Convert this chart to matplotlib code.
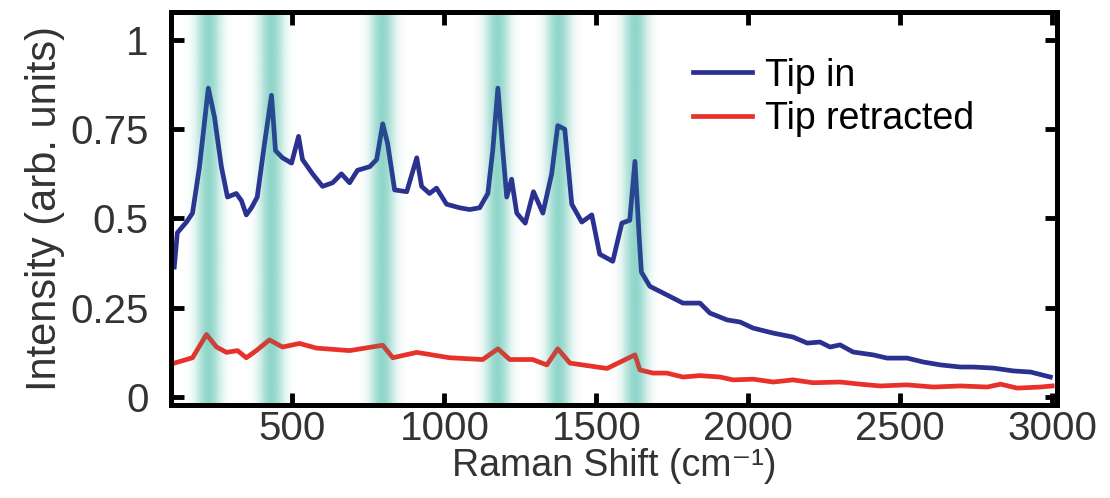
import numpy as np
import matplotlib
matplotlib.use("Agg")
import matplotlib.pyplot as plt

plt.rcParams['font.family'] = ['Liberation Sans', 'DejaVu Sans']

# data
shift_in = [111, 121, 151, 171, 194, 223, 243, 266, 286, 315, 332, 348, 365, 384, 408, 431,
            444, 467, 497, 520, 533, 566, 599, 632, 661, 688, 714, 754, 777, 797, 813, 836,
            876, 909, 925, 951, 974, 1007, 1050, 1083, 1116, 1143, 1159, 1176, 1192, 1205,
            1221, 1238, 1266, 1293, 1324, 1353, 1373, 1396, 1419, 1452, 1485, 1511, 1554,
            1584, 1610, 1627, 1640, 1648, 1676, 1732, 1785, 1841, 1874, 1930, 1973, 2016,
            2082, 2147, 2194, 2236, 2269, 2302, 2345, 2411, 2457, 2523, 2576, 2632, 2698,
            2741, 2807, 2873, 2929, 2994]
tip_in = [0.364, 0.46, 0.49, 0.515, 0.645, 0.865, 0.785, 0.645, 0.56, 0.57, 0.55, 0.51, 0.53,
          0.56, 0.71, 0.845, 0.69, 0.67, 0.655, 0.73, 0.665, 0.625, 0.59, 0.60, 0.625, 0.60,
          0.635, 0.645, 0.665, 0.765, 0.71, 0.58, 0.575, 0.67, 0.59, 0.57, 0.585, 0.54, 0.53,
          0.525, 0.53, 0.57, 0.69, 0.865, 0.69, 0.56, 0.61, 0.515, 0.487, 0.575, 0.515, 0.625,
          0.76, 0.75, 0.54, 0.49, 0.51, 0.40, 0.38, 0.487, 0.495, 0.66, 0.46, 0.35, 0.31,
          0.286, 0.263, 0.263, 0.235, 0.216, 0.21, 0.193, 0.179, 0.168, 0.151, 0.154, 0.14,
          0.146, 0.126, 0.118, 0.109, 0.109, 0.098, 0.09, 0.084, 0.084, 0.081, 0.073, 0.07,
          0.056]

shift_out = [111, 171, 217, 250, 283, 319, 348, 381, 424, 467, 523, 579, 688, 797, 830, 909,
             1017, 1126, 1176, 1215, 1290, 1337, 1373, 1413, 1535, 1627, 1643, 1686, 1732,
             1785, 1841, 1907, 1950, 2016, 2082, 2147, 2213, 2302, 2368, 2434, 2523, 2609,
             2698, 2787, 2830, 2885, 2962, 3000]
tip_out = [0.095, 0.11, 0.175, 0.14, 0.125, 0.13, 0.11, 0.13, 0.16, 0.14, 0.15, 0.137, 0.13,
           0.145, 0.11, 0.125, 0.11, 0.105, 0.135, 0.105, 0.105, 0.09, 0.135, 0.095, 0.08,
           0.118, 0.076, 0.067, 0.067, 0.056, 0.06, 0.056, 0.048, 0.05, 0.042, 0.048, 0.04,
           0.042, 0.036, 0.031, 0.034, 0.028, 0.031, 0.028, 0.036, 0.025, 0.028, 0.031]

band_centers = [222, 431, 796, 1174, 1376, 1627]

fig = plt.figure(figsize=(11.1, 4.98), dpi=100)
ax = fig.add_axes([0.154, 0.187, 0.798, 0.788])

ax.plot(shift_in, tip_in, color='#2b3190', lw=3.4, label='Tip in', zorder=3)
ax.plot(shift_out, tip_out, color='#e8312a', lw=3.4, label='Tip retracted', zorder=3)

xmin, xmax = 100, 3015
ymin, ymax = -0.022, 1.077

# soft teal bands marking the peaks
teal = np.array([30, 172, 147]) / 255
for c in band_centers:
    xs = np.linspace(c - 80, c + 80, 161)
    prof = np.exp(-0.5 * ((xs - c) / 27.0) ** 2)
    for a_max, z in [(0.36, 1), (0.2, 4)]:
        img = np.zeros((1, len(xs), 4))
        img[..., :3] = teal
        img[0, :, 3] = a_max * prof
        ax.imshow(img, extent=[xs[0], xs[-1], ymin, ymax], aspect='auto',
                  interpolation='bilinear', zorder=z)
ax.set_xlim(xmin, xmax)
ax.set_ylim(ymin, ymax)

ax.set_xticks([500, 1000, 1500, 2000, 2500, 3000])
ax.set_yticks([0, 0.25, 0.5, 0.75, 1])
ax.set_yticklabels(['0', '0.25', '0.5', '0.75', '1'])
ax.tick_params(direction='in', length=9, width=3.5, top=True, right=True,
               labelsize=29, colors='black', labelcolor='#333333')
ax.tick_params(axis='x', pad=4)
ax.tick_params(axis='y', pad=16)
for s in ax.spines.values():
    s.set_linewidth(3.6)
    s.set_zorder(5)

ax.set_xlabel('Raman Shift (cm⁻¹)', fontsize=27, color='#333333', labelpad=0)
ax.set_ylabel('Intensity (arb. units)', fontsize=30, color='#333333', labelpad=4)

ax.legend(loc='upper left', bbox_to_anchor=(0.589, 0.885), frameon=False, fontsize=27,
          handlelength=1.57, handletextpad=0.35, labelspacing=0.2, borderpad=0,
          borderaxespad=0)

fig.savefig('out.png', dpi=100)
